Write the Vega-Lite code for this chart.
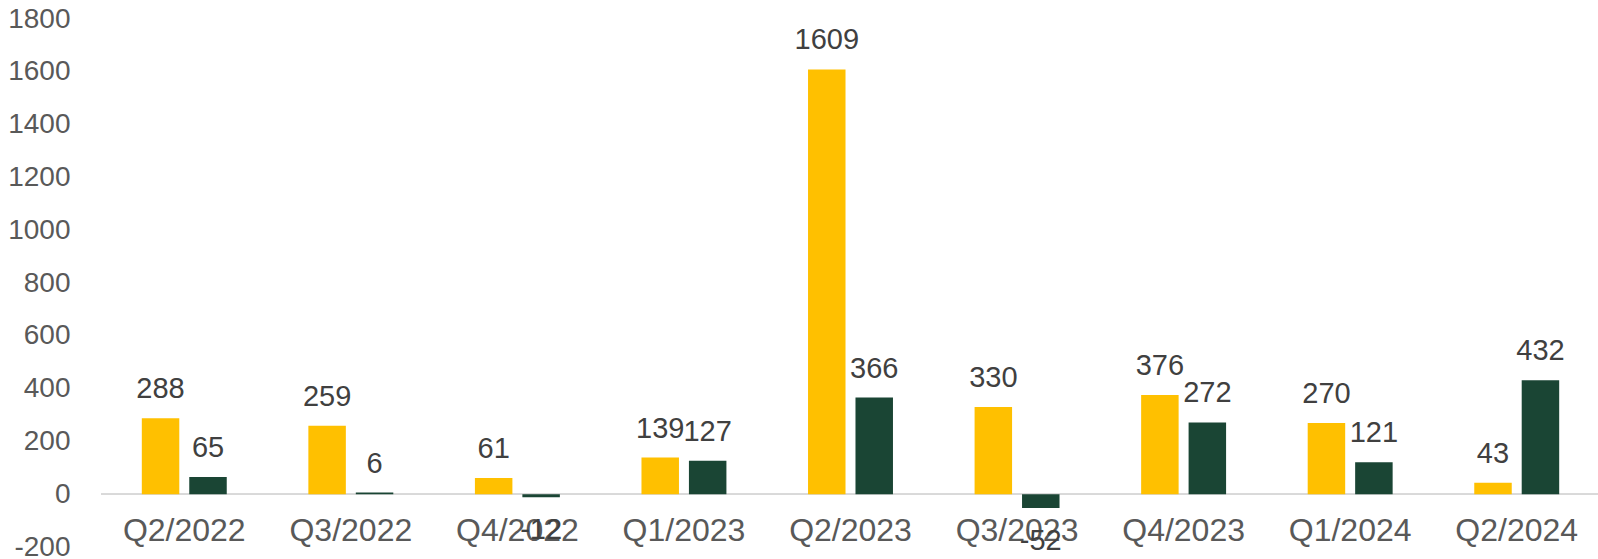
{
  "$schema": "https://vega.github.io/schema/vega-lite/v6.json",
  "autosize": {"type": "none"},
  "padding": {"left": 101, "top": 19, "right": 0, "bottom": 12},
  "width": 1499,
  "height": 528,
  "background": "white",
  "config": {"view": {"stroke": null}, "font": "Liberation Sans"},
  "data": {"values": [
    {"q": "Q2/2022", "s": "A", "v": 288}, {"q": "Q2/2022", "s": "B", "v": 65},
    {"q": "Q3/2022", "s": "A", "v": 259}, {"q": "Q3/2022", "s": "B", "v": 6},
    {"q": "Q4/2022", "s": "A", "v": 61}, {"q": "Q4/2022", "s": "B", "v": -12},
    {"q": "Q1/2023", "s": "A", "v": 139}, {"q": "Q1/2023", "s": "B", "v": 127},
    {"q": "Q2/2023", "s": "A", "v": 1609}, {"q": "Q2/2023", "s": "B", "v": 366},
    {"q": "Q3/2023", "s": "A", "v": 330}, {"q": "Q3/2023", "s": "B", "v": -52},
    {"q": "Q4/2023", "s": "A", "v": 376}, {"q": "Q4/2023", "s": "B", "v": 272},
    {"q": "Q1/2024", "s": "A", "v": 270}, {"q": "Q1/2024", "s": "B", "v": 121},
    {"q": "Q2/2024", "s": "A", "v": 43}, {"q": "Q2/2024", "s": "B", "v": 432}
  ]},
  "encoding": {
    "x": {"field": "q", "type": "nominal", "sort": null,
      "scale": {"paddingInner": 0.49, "paddingOuter": 0.245},
      "axis": {"title": null, "orient": "bottom", "offset": -53, "labelAngle": 0,
        "labelFontSize": 32, "labelColor": "#595959", "labelPadding": 21,
        "ticks": false, "domain": false, "labelBaseline": "top"}},
    "xOffset": {"field": "s", "type": "nominal", "scale": {"paddingInner": 0.21, "paddingOuter": 0}},
    "y": {"field": "v", "type": "quantitative",
      "scale": {"domain": [-200, 1800], "nice": false, "zero": false},
      "axis": {"title": null, "values": [-200, 0, 200, 400, 600, 800, 1000, 1200, 1400, 1600, 1800],
        "labelExpr": "'' + datum.value",
        "grid": false, "domain": false, "ticks": false, "labelFontSize": 28,
        "labelColor": "#595959", "labelPadding": 31}}
  },
  "layer": [
    {"mark": {"type": "rule", "color": "#D9D9D9", "strokeWidth": 1.5},
     "encoding": {"y": {"datum": 0}, "x": {"value": 0}, "x2": {"value": 1499}, "xOffset": null}},
    {"mark": {"type": "bar"},
     "encoding": {"color": {"field": "s", "type": "nominal",
       "scale": {"domain": ["A", "B"], "range": ["#FFC000", "#1A4534"]}, "legend": null}}},
    {"transform": [{"filter": "datum.v >= 0"}],
     "mark": {"type": "text", "fontSize": 29, "color": "#404040", "baseline": "alphabetic", "dy": -20},
     "encoding": {"text": {"field": "v", "type": "nominal"}}},
    {"transform": [{"filter": "datum.v < 0"}],
     "mark": {"type": "text", "fontSize": 29, "color": "#404040", "baseline": "top", "dy": 19},
     "encoding": {"text": {"field": "v", "type": "nominal"}}}
  ]
}
